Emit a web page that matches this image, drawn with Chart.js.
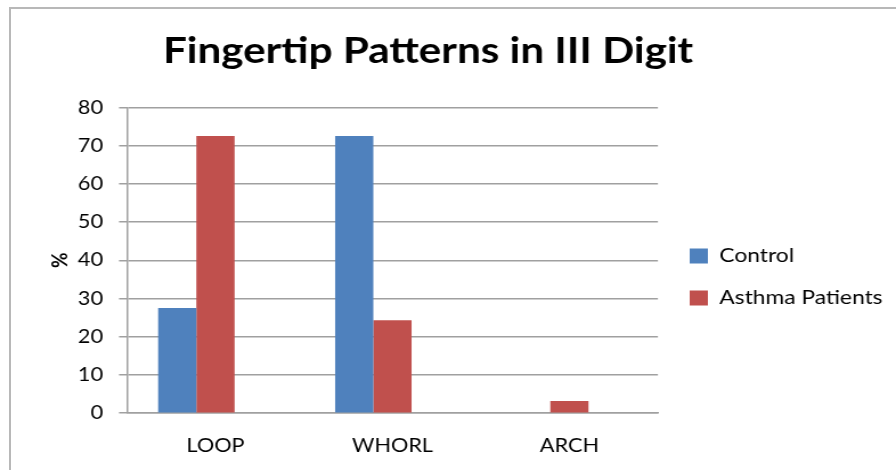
<!DOCTYPE html>
<html>
<head>
<meta charset="utf-8">
<script src="https://cdn.jsdelivr.net/npm/chart.js@4.4.1/dist/chart.umd.min.js"></script>
<style>
	html, body { margin: 0; padding: 0; background: #fff; overflow: hidden; }
	#wrap { position: relative; width: 896px; height: 470px; }
	#frame { position: absolute; left: 9px; top: 7px; width: 900px; height: 480px; border: 2px solid #b8b8b8; box-sizing: border-box; }
	#chart { position: absolute; left: 0; top: 0; }
</style>
</head>
<body>
<div id="wrap">
	<div id="frame"></div>
	<!-- the original picture is stretched sideways, so the canvas is drawn narrower and widened by css -->
	<canvas id="chart" width="786" height="470" style="width:896px;height:470px"></canvas>
</div>
<script>
//Data
var categories = ['LOOP', 'WHORL', 'ARCH'];
var seriesNames = ['Control', 'Asthma Patients'];
var controlValues = [27.5, 72.5, 0];
var asthmaValues = [72.5, 24.3, 3.2];
var emptySeries = [null, null, null]; // blank third series slot kept by the original sheet
var yTicks = [0, 10, 20, 30, 40, 50, 60, 70, 80];

var FONT = 'Lato, "Open Sans", sans-serif';

//Moves title and legend to where the original places them
var nudge = {
	id: 'nudge',
	afterLayout: function (chart) {
		chart.titleBlock.left = 0;
		chart.titleBlock.right = 751;
		var lg = chart.legend;
		var w = lg.right - lg.left;
		lg.left = 583;
		lg.right = 583 + w;
		lg.top += 42;
		lg.bottom += 42;
	}
};

new Chart(document.getElementById('chart'), {
	type: 'bar',
	data: {
		labels: categories,
		datasets: [{
			label: seriesNames[0],
			data: controlValues,
			backgroundColor: '#4f81bd',
			borderWidth: 0
		}, {
			label: seriesNames[1],
			data: asthmaValues,
			backgroundColor: '#c0504d',
			borderWidth: 0
		}, {
			label: '',
			data: emptySeries,
			backgroundColor: 'transparent',
			borderWidth: 0
		}]
	},
	options: {
		responsive: false,
		animation: false,
		layout: {
			padding: { left: 0, right: 16.5, top: 0, bottom: 0 }
		},
		datasets: {
			bar: {
				categoryPercentage: 0.648,
				barPercentage: 1
			}
		},
		plugins: {
			title: {
				display: true,
				text: 'Fingertip Patterns in III Digit',
				color: '#000',
				font: { family: FONT, size: 37, weight: 'bold' },
				padding: { top: 29, bottom: 34 }
			},
			legend: {
				position: 'right',
				labels: {
					color: '#000',
					font: { family: FONT, size: 20 },
					boxWidth: 16,
					boxHeight: 15,
					padding: 22,
					filter: function (item) { return item.text !== ''; }
				}
			},
			tooltip: { enabled: false }
		},
		scales: {
			x: {
				grid: { display: false },
				border: { display: true, color: '#a0a0a0', width: 1.5 },
				ticks: {
					color: '#000',
					font: { family: FONT, size: 19 },
					padding: 13
				}
			},
			y: {
				min: 0,
				max: 80,
				afterBuildTicks: function (scale) {
					scale.ticks = yTicks.map(function (v) { return { value: v }; });
				},
				afterFit: function (scale) {
					scale.width = 111.4;
				},
				grid: {
					color: '#a0a0a0',
					lineWidth: 1.5,
					tickLength: 7
				},
				border: { display: true, color: '#a0a0a0', width: 1.5 },
				ticks: {
					color: '#000',
					font: { family: FONT, size: 19 },
					padding: 14
				},
				title: {
					display: true,
					text: '%',
					color: '#000',
					font: { family: FONT, size: 19, weight: 'bold' },
					padding: { top: 41, bottom: 4 }
				}
			}
		}
	},
	plugins: [nudge]
});
</script>
</body>
</html>
